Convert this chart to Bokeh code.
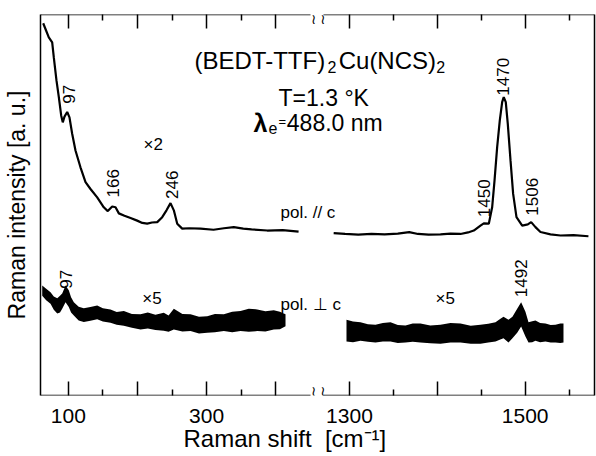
import math
from bokeh.plotting import figure
from bokeh.models import Range1d, LinearAxis, FixedTicker, Label, Title
from bokeh.embed import file_html
from bokeh.resources import INLINE

FONT = "Liberation Sans"

# ---------------- data ----------------
# pol // c, low-frequency part (cm-1, intensity a.u.)
upper_left_x = [63.7, 67.0, 71.8, 76.7, 79.0, 82.9, 86.3, 89.7, 92.0, 94.5, 98.4, 101.7,
                105.6, 110.4, 117.6, 124.9, 132.1, 141.8, 151.3, 157.1, 163.5, 168.3,
                173.1, 181.2, 190.0, 199.6, 207.0, 214.1, 221.0, 228.6, 235.8, 242.0,
                247.8, 252.6, 257.5, 264.7, 275.0, 291.2, 310.0, 325.0, 339.3, 353.0,
                365.0, 387.6, 410.0, 433.0]
upper_left_y = [97.7, 96.2, 94.0, 92.7, 88.8, 82.7, 78.3, 73.5, 71.7, 73.2, 74.4, 73.0,
                68.7, 64.3, 59.9, 56.0, 54.2, 52.0, 49.4, 48.4, 49.6, 49.4,
                47.8, 47.2, 46.6, 45.9, 45.3, 45.1, 45.4, 45.5, 46.8, 48.6,
                50.5, 48.6, 45.1, 43.8, 43.9, 43.8, 43.5, 43.9, 44.2, 43.8,
                43.6, 43.3, 43.4, 43.0]

# pol // c, high-frequency part
upper_right_x = [1282, 1295, 1310, 1325, 1340, 1355, 1368, 1378, 1390, 1403.6, 1415,
                 1426.4, 1435, 1441.5, 1449.1, 1452.9, 1458.6, 1462.4, 1465.1, 1468.1,
                 1471.1, 1473.8, 1475.6, 1477.9, 1480.2, 1483.3, 1486.3, 1490.1, 1496.6,
                 1503.0, 1506.8, 1511.7, 1517.4, 1528.8, 1540.2, 1555, 1572]
upper_right_y = [42.6, 42.4, 42.2, 42.4, 42.3, 42.5, 42.9, 42.4, 42.2, 42.3, 42.5,
                 42.4, 42.8, 43.3, 44.6, 45.2, 45.1, 49.4, 56.4, 65.2,
                 72.2, 77.0, 78.3, 77.0, 71.3, 61.7, 52.9, 46.8, 44.6,
                 44.9, 45.5, 44.2, 42.9, 42.3, 42.0, 42.1, 41.8]

# pol ⊥ c, low-frequency part: noisy trace drawn as its upper / lower envelope
lower_left_x = [62.3, 68, 74.3, 79, 84.0, 88, 91.2, 96.0, 100.7, 104, 108.0, 115, 122.4,
                132, 141.8, 150, 161.0, 170, 180.3, 192, 204.4, 215, 226, 238.1, 245,
                252.6, 265, 276.7, 289, 300.9, 312, 324.9, 337, 349.0, 361, 373.2, 385,
                397.2, 406, 414.1]
lower_left_top = [28.9, 28.0, 27.1, 26.0, 25.5, 26.2, 26.8, 28.9, 27.6, 25.8, 24.5, 23.3,
                  22.9, 23.2, 23.6, 22.9, 22.6, 21.9, 22.2, 21.4, 21.3, 21.8, 21.2,
                  21.7, 21.0, 22.8, 21.4, 21.3, 20.7, 20.8, 21.4, 21.3, 22.0, 22.2,
                  22.8, 22.6, 22.1, 22.4, 22.0, 21.3]
lower_left_bot = [26.2, 25.0, 24.1, 22.5, 21.5, 21.8, 22.8, 24.5, 23.2, 21.8, 21.0, 19.7,
                  19.3, 19.6, 20.0, 19.4, 19.1, 18.6, 18.3, 17.8, 17.3, 17.6, 17.2,
                  17.0, 16.7, 17.3, 16.8, 16.9, 16.3, 16.5, 16.6, 16.9, 16.6, 16.9,
                  16.7, 16.9, 16.8, 17.3, 17.4, 18.2]

# pol ⊥ c, high-frequency part
lower_right_x = [1296.6, 1304, 1312.5, 1321, 1329.6, 1338, 1346.7, 1355, 1363.7, 1372,
                 1380.8, 1392, 1403.6, 1415, 1426.4, 1438, 1449.1, 1458, 1466.2, 1471,
                 1475.3, 1481, 1485.5, 1490.9, 1495.4, 1500.3, 1503.8, 1508, 1511.7,
                 1517, 1523.1, 1529, 1534.5, 1540, 1543.6]
lower_right_top = [19.9, 19.4, 19.2, 18.7, 18.6, 19.0, 19.2, 18.5, 18.4, 18.9,
                   18.9, 18.4, 18.6, 19.0, 18.9, 18.3, 18.6, 18.8, 19.2, 20.0,
                   20.7, 19.9, 20.7, 22.8, 24.5, 22.0, 19.2, 19.5, 19.7,
                   19.0, 18.9, 18.5, 18.6, 18.9, 18.9]
lower_right_bot = [14.2, 14.0, 14.4, 14.1, 13.9, 14.2, 14.2, 13.8, 13.9, 14.1,
                   13.9, 13.7, 13.6, 13.9, 13.9, 13.6, 13.6, 13.9, 14.2, 14.6,
                   15.0, 13.9, 15.0, 16.5, 18.1, 15.5, 13.9, 14.0, 14.4,
                   14.0, 14.2, 13.9, 13.9, 13.8, 13.9]

# axis ticks
left_major = [100, 200, 300, 400]
left_minor = [150, 250, 350]
left_tick_labels = [100, 300]
right_major = [1300, 1400, 1500]
right_minor = [1350, 1450, 1550]
right_tick_labels = [1300, 1500]

# ---------------- figure ----------------
L0, L1 = 59.8, 860.9      # low-frequency scale across the whole frame
R0, R1 = 948.3, 1578.9    # high-frequency scale across the whole frame
LEFT_BOUNDS = (L0, 450)
RIGHT_BOUNDS = (1270.4, R1)

p = figure(width=596, height=456,
           x_range=Range1d(L0, L1), y_range=Range1d(0, 100),
           output_backend="svg", toolbar_location=None,
           min_border_left=40, min_border_right=2,
           min_border_top=14, min_border_bottom=61)
p.extra_x_ranges = {"right": Range1d(R0, R1)}
p.outline_line_color = None
p.xgrid.visible = False
p.ygrid.visible = False
p.background_fill_color = "white"
p.border_fill_color = "white"


def to_left(v):
    """express a high-frequency tick value on the main (low-frequency) scale"""
    return L0 + (v - R0) * (L1 - L0) / (R1 - R0)


major_pos = [float(v) for v in left_major] + [to_left(v) for v in right_major]
minor_pos = [float(v) for v in left_minor] + [to_left(v) for v in right_minor]
overrides = {}
for v in left_major:
    overrides[float(v)] = str(v) if v in left_tick_labels else ""
for v in right_major:
    overrides[to_left(v)] = str(v) if v in right_tick_labels else ""


def tick_axis(ax, labels):
    ax.ticker = FixedTicker(ticks=major_pos, minor_ticks=minor_pos)
    ax.axis_line_color = None
    ax.major_tick_in = 14
    ax.major_tick_out = 0
    ax.minor_tick_in = 6
    ax.minor_tick_out = 0
    ax.major_tick_line_color = "black"
    ax.minor_tick_line_color = "black"
    ax.major_tick_line_width = 1.5
    ax.minor_tick_line_width = 1.5
    if labels:
        ax.major_label_overrides = overrides
        ax.major_label_text_font = FONT
        ax.major_label_text_font_size = "21px"
        ax.major_label_text_color = "black"
        ax.major_label_standoff = 13
    else:
        ax.major_label_text_font_size = "0px"
        ax.major_label_text_color = None
        ax.major_label_standoff = 0


def line_axis(rng, loc, bounds):
    ax = LinearAxis(x_range_name=rng, fixed_location=loc, bounds=bounds,
                    ticker=FixedTicker(ticks=[]), axis_line_color="black",
                    axis_line_width=1.5, major_tick_out=0, major_tick_in=0,
                    major_label_text_font_size="0px", major_label_standoff=0)
    return ax


# ticks + tick labels (bottom), ticks only (top)
bx = p.below[0]
tick_axis(bx, True)
tx = LinearAxis()
tick_axis(tx, False)
p.add_layout(tx, "above")

# broken frame lines (top & bottom), one segment per scale
p.add_layout(line_axis("default", 0, LEFT_BOUNDS), "below")
p.add_layout(line_axis("right", 0, RIGHT_BOUNDS), "below")
p.add_layout(line_axis("default", 100, LEFT_BOUNDS), "above")
p.add_layout(line_axis("right", 100, RIGHT_BOUNDS), "above")

# x-axis title (left-aligned, offset to sit under the low-frequency part)
p.add_layout(Title(text="Raman shift\u00a0\u00a0[cm\u207b\u00b9]", align="left", offset=143,
                   text_font=FONT, text_font_size="24px", text_font_style="normal",
                   text_color="black", standoff=-5), "below")

# left & right frame edges
ly = p.left[0]
ly.ticker = FixedTicker(ticks=[])
ly.axis_line_color = "black"
ly.axis_line_width = 1.5
ly.major_tick_out = 0
ly.major_tick_in = 0
ly.major_label_text_font_size = "0px"
ly.major_label_standoff = 0
ly.axis_label = "Raman intensity [a. u.]"
ly.axis_label_text_font = FONT
ly.axis_label_text_font_size = "23px"
ly.axis_label_text_font_style = "normal"
ly.axis_label_text_color = "black"
ly.axis_label_standoff = 11
ry = LinearAxis(ticker=FixedTicker(ticks=[]), axis_line_color="black", axis_line_width=1.5,
                major_tick_out=0, major_tick_in=0,
                major_label_text_font_size="0px", major_label_standoff=0)
p.add_layout(ry, "right")

# ---------------- spectra ----------------
p.line(upper_left_x, upper_left_y, line_color="black", line_width=2.2)
p.line(upper_right_x, upper_right_y, line_color="black", line_width=2.2, x_range_name="right")
p.varea(x=lower_left_x, y1=lower_left_bot, y2=lower_left_top, fill_color="black")
p.varea(x=lower_right_x, y1=lower_right_bot, y2=lower_right_top, fill_color="black",
        x_range_name="right")


def lab(x, y, text, size, rng="default", angle=0.0, align="left", baseline="alphabetic",
        style="normal", font=FONT):
    p.add_layout(Label(x=x, y=y, text=text, x_range_name=rng, angle=angle,
                       text_align=align, text_baseline=baseline, text_font=font,
                       text_font_size=size, text_font_style=style, text_color="black"))


# axis-break marks
for bx_pos in (454.6, 468.3):
    lab(bx_pos, 98.9, "\u2240", "14px", align="center", baseline="middle", font="DejaVu Sans")
    lab(bx_pos, 1.1, "\u2240", "14px", align="center", baseline="middle", font="DejaVu Sans")

# title block
lab(282.5, 87.9, "(BEDT-TTF)", "24px")
lab(474.8, 86.2, "2", "16px")
lab(491.0, 87.9, "Cu(NCS)", "24px")
lab(632.0, 86.2, "2", "16px")
lab(404.0, 78.2, "T=1.3 \u00b0K", "23px")
lab(367.8, 71.4, "\u03bb", "25px", style="bold")
lab(389.5, 70.1, "e", "16px")
lab(404.0, 72.0, "=", "13px")
lab(416.0, 71.4, "488.0 nm", "23px")

# scale factors and polarisation labels
lab(208.7, 65.9, "\u00d72", "17px")
lab(206.9, 25.5, "\u00d75", "17px")
lab(1397.9, 25.5, "\u00d75", "17px", rng="right")
lab(406.9, 48.0, "pol. // c", "17px")
lab(406.9, 23.9, "pol. \u22a5 c", "17px")

# peak labels (rotated)
R = math.pi / 2
lab(100.3, 76.6, "97", "17px", angle=R, baseline="middle")
lab(164.6, 52.0, "166", "17px", angle=R, baseline="middle")
lab(250.2, 51.6, "246", "17px", angle=R, baseline="middle")
lab(97.1, 28.0, "97", "17px", angle=R, baseline="middle")
lab(1474.7, 78.7, "1470", "17px", rng="right", angle=R, baseline="middle")
lab(1452.9, 46.8, "1450", "17px", rng="right", angle=R, baseline="middle")
lab(1508.0, 47.2, "1506", "17px", rng="right", angle=R, baseline="middle")
lab(1495.6, 25.8, "1492", "17px", rng="right", angle=R, baseline="middle")

open("out.html", "w").write(file_html(p, INLINE))
